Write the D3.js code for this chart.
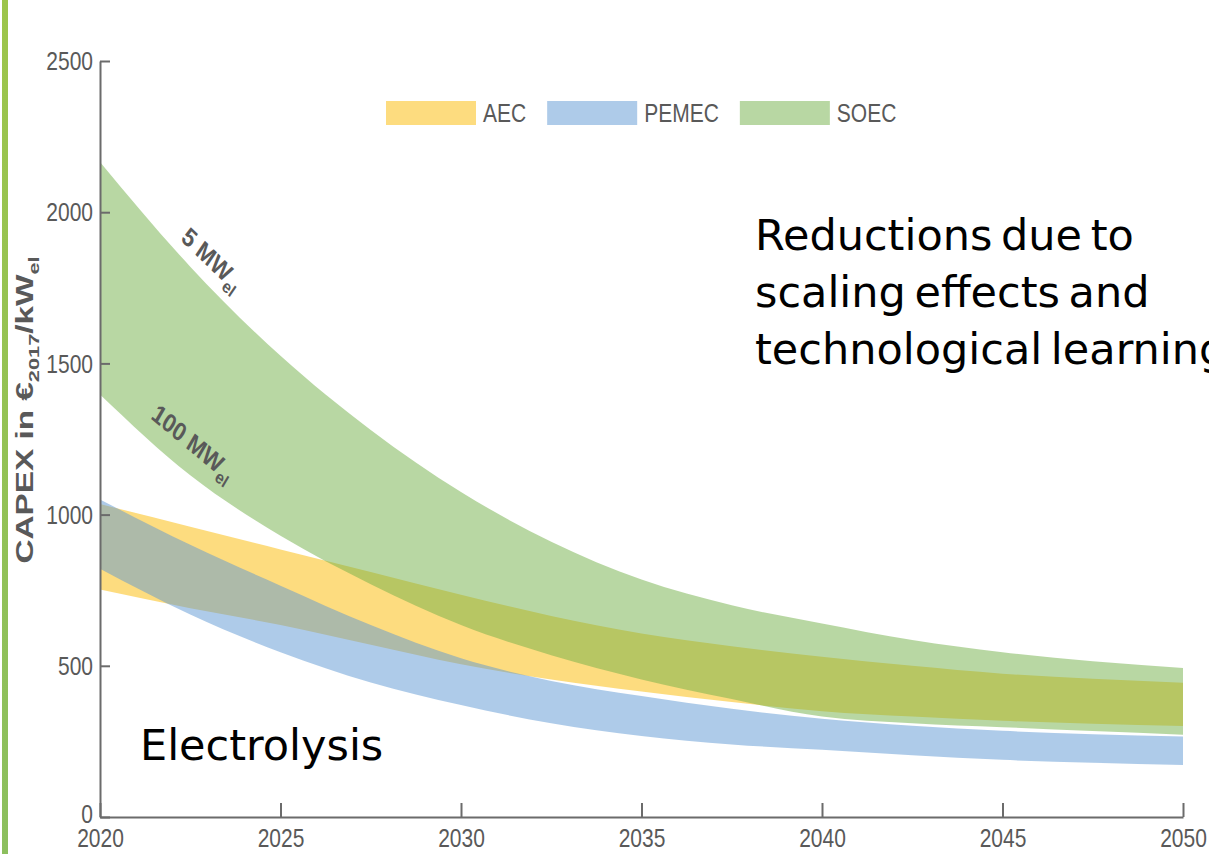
<!DOCTYPE html>
<html>
<head>
<meta charset="utf-8">
<script src="https://cdn.jsdelivr.net/npm/d3@7"></script>
<style>
  html, body { margin: 0; padding: 0; background: #fff; }
  svg { display: block; }
</style>
</head>
<body>
<div id="chart"></div>
<script>
// years, values in EUR2017/kWel
var years    = [2020, 2022.5, 2025, 2027.5, 2030, 2032.5, 2035, 2037.5, 2040, 2042.5, 2045, 2047.5, 2050];
var aecHigh  = [1035, 960, 885, 810, 735, 665, 607, 565, 530, 500, 474, 457, 444];
var aecLow   = [752, 690, 635, 570, 505, 455, 415, 380, 350, 332, 318, 308, 301];
var pemHigh  = [1050, 900, 765, 635, 525, 450, 400, 358, 325, 302, 285, 274, 266];
var pemLow   = [821, 670, 545, 445, 370, 310, 268, 240, 222, 204, 189, 179, 172];
var soecHigh = [2166, 1820, 1525, 1280, 1075, 910, 785, 700, 640, 585, 545, 515, 493];
var soecLow  = [1397, 1130, 930, 770, 635, 535, 455, 390, 332, 310, 297, 284, 272];

var techNames  = ["AEC", "PEMEC", "SOEC"];
var techColors = ["#fbb900", "#5d97d3", "#71af47"];
var yTicks = [0, 500, 1000, 1500, 2000, 2500];
var xTicks = [2020, 2025, 2030, 2035, 2040, 2045, 2050];

var W = 1209, H = 854;
var k = 1.19;   // the chart in the slide is stretched vertically
var axisCol = "#6b6b6b", labCol = "#595959";
var chartFont = "'Liberation Sans', Arial, sans-serif";
var slideFont = "'DejaVu Sans', sans-serif";

var svg = d3.select("#chart").append("svg").attr("width", W).attr("height", H);

// green bar on the left of the slide
var grad = svg.append("defs").append("linearGradient").attr("id", "bar")
  .attr("x1", 0).attr("y1", 0).attr("x2", 0).attr("y2", 1);
grad.append("stop").attr("offset", 0).attr("stop-color", "#9dc54b");
grad.append("stop").attr("offset", 1).attr("stop-color", "#8cbf5e");
svg.append("rect").attr("x", 2).attr("y", 0).attr("width", 6).attr("height", H).attr("fill", "url(#bar)");

var x = d3.scaleLinear().domain([2020, 2050]).range([100, 1183]);
var y = d3.scaleLinear().domain([0, 2500]).range([817, 61]);

var bands = [
  d3.zip(years, aecLow, aecHigh),
  d3.zip(years, pemLow, pemHigh),
  d3.zip(years, soecLow, soecHigh)
];

var area = d3.area()
  .x(d => x(d[0]))
  .y0(d => y(d[1]))
  .y1(d => y(d[2]))
  .curve(d3.curveMonotoneX);

svg.append("g").selectAll("path").data(bands).enter()
  .append("path")
  .attr("d", area)
  .attr("fill", (d, i) => techColors[i])
  .attr("fill-opacity", 0.5);

// axes
var yAxis = svg.append("g").attr("transform", "translate(100,0)")
  .call(d3.axisLeft(y).tickValues(yTicks).tickSizeInner(-10).tickSizeOuter(0).tickPadding(7).tickFormat(d3.format("d")));
var xAxis = svg.append("g").attr("transform", "translate(0,817)")
  .call(d3.axisBottom(x).tickValues(xTicks).tickSizeInner(-14).tickSizeOuter(0).tickFormat(d3.format("d")));

[yAxis, xAxis].forEach(function(ax) {
  ax.select(".domain").attr("stroke", axisCol).attr("stroke-width", 2);
  ax.selectAll(".tick line").attr("stroke", axisCol).attr("stroke-width", 2);
  ax.selectAll(".tick text").attr("fill", labCol).style("font-family", chartFont).style("font-size", "21px");
});
yAxis.selectAll(".tick text").attr("dy", "0.35em").attr("transform", "scale(1," + k + ")");
yAxis.selectAll(".tick text").filter(d => d === 0).attr("dy", "0.2em");
xAxis.selectAll(".tick text").attr("y", 10).attr("dy", "0.72em").attr("transform", "scale(1," + k + ")");

// y axis title
var yt = svg.append("text")
  .attr("transform", "translate(33,410) rotate(-90) scale(1.45,1)")
  .attr("text-anchor", "middle")
  .attr("fill", labCol)
  .style("font-family", chartFont).style("font-weight", "bold").style("font-size", "23px");
yt.append("tspan").text("CAPEX in €");
yt.append("tspan").attr("dy", 6).style("font-size", "15px").text("2017");
yt.append("tspan").attr("dy", -6).text("/kW");
yt.append("tspan").attr("dy", 6).style("font-size", "15px").text("el");

// legend
var lx = 386;
techNames.forEach(function(name, i) {
  svg.append("rect").attr("x", lx).attr("y", 101).attr("width", 90).attr("height", 24)
    .attr("fill", techColors[i]).attr("fill-opacity", 0.5);
  var t = svg.append("text")
    .attr("transform", "translate(" + (lx + 97) + ",113) scale(1," + k + ")")
    .attr("dy", "0.35em")
    .attr("fill", labCol)
    .style("font-family", chartFont).style("font-size", "21px")
    .text(name);
  lx += 97 + t.node().getComputedTextLength() + 21;
});

// size labels on the SOEC band
function sizeLabel(px, py, ang, main) {
  var t = svg.append("text")
    .attr("transform", "translate(" + px + "," + py + ") scale(1," + k + ") rotate(" + ang + ")")
    .attr("fill", labCol)
    .style("font-family", chartFont).style("font-weight", "bold").style("font-size", "22px");
  t.append("tspan").text(main);
  t.append("tspan").attr("dy", 6).style("font-size", "15px").text("el");
}
sizeLabel(180, 240, 39, "5 MW");
sizeLabel(150, 418, 35, "100 MW");

// slide text
var note = svg.append("text")
  .attr("fill", "#000")
  .style("font-family", slideFont).style("font-size", "43px").style("word-spacing", "-5px");
["Reductions due to", "scaling effects and", "technological learning"].forEach(function(s, i) {
  note.append("tspan").attr("x", 755).attr("y", 250 + i * 57).text(s);
});
svg.append("text").attr("x", 140).attr("y", 760)
  .attr("fill", "#000")
  .style("font-family", slideFont).style("font-size", "43px")
  .text("Electrolysis");
</script>
</body>
</html>
